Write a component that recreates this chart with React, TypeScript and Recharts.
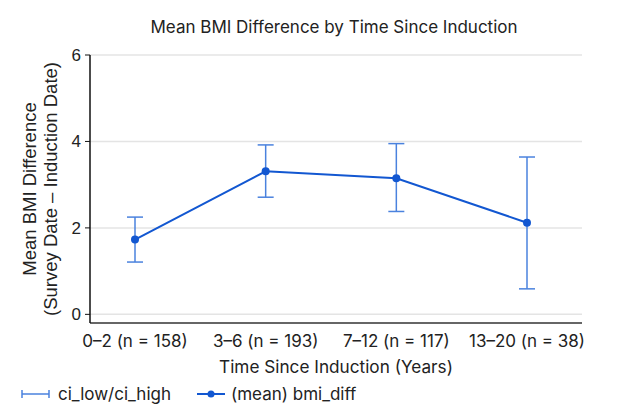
import React from "react";
import { CartesianGrid, ErrorBar, Line, LineChart, XAxis, YAxis } from "recharts";

const CATEGORIES = ["0–2 (n = 158)", "3–6 (n = 193)", "7–12 (n = 117)", "13–20 (n = 38)"];
const MEAN_DIFF = [1.73, 3.31, 3.15, 2.12];
const CI_LOW = [1.21, 2.71, 2.38, 0.59];
const CI_HIGH = [2.25, 3.92, 3.95, 3.64];
const Y_TICKS = [0, 2, 4, 6];

const LINE_COLOR = "#1257d1";
const BAR_COLOR = "#4a82de";

const data = CATEGORIES.map((cat, i) => ({
  cat,
  mean: MEAN_DIFF[i],
  err: [MEAN_DIFF[i] - CI_LOW[i], CI_HIGH[i] - MEAN_DIFF[i]],
}));

function YLabel() {
  return (
    <g transform="translate(40, 189) rotate(-90)">
      <text x={0} y={-4} textAnchor="middle" fontSize={18.5} fill="#222" fontFamily="Liberation Sans, Arial">
        Mean BMI Difference
      </text>
      <text x={0} y={17} textAnchor="middle" fontSize={18.5} fill="#222" fontFamily="Liberation Sans, Arial">
        (Survey Date – Induction Date)
      </text>
    </g>
  );
}

function LegendBox() {
  return (
    <div
      style={{
        position: "absolute",
        left: 0,
        top: 384,
        display: "flex",
        alignItems: "center",
        fontFamily: "Inter",
        fontSize: 17,
        color: "#222",
      }}
    >
      <svg width={30} height={12} style={{ marginLeft: 21, marginRight: 7 }}>
        <line x1={1} y1={6} x2={28} y2={6} stroke={BAR_COLOR} strokeWidth={1.5} />
        <line x1={1} y1={2} x2={1} y2={10} stroke={BAR_COLOR} strokeWidth={1.5} />
        <line x1={28} y1={2} x2={28} y2={10} stroke={BAR_COLOR} strokeWidth={1.5} />
      </svg>
      <span>ci_low/ci_high</span>
      <svg width={28} height={12} style={{ marginLeft: 26, marginRight: 6 }}>
        <line x1={0} y1={6} x2={28} y2={6} stroke={LINE_COLOR} strokeWidth={2} />
        <circle cx={14} cy={6} r={3.5} fill={LINE_COLOR} />
      </svg>
      <span>(mean) bmi_diff</span>
    </div>
  );
}

export default function App() {
  return (
    <div style={{ position: "absolute", left: 0, top: 0, width: 617, height: 405, background: "#fff" }}>
      <div
        style={{
          position: "absolute",
          top: 17,
          left: 100,
          width: 468,
          textAlign: "center",
          fontFamily: "Inter",
          fontSize: 17,
          color: "#222",
        }}
      >
        Mean BMI Difference by Time Since Induction
      </div>
      <LineChart width={617} height={405} data={data} margin={{ top: 55, right: 35, left: 40, bottom: 0 }}>
        <CartesianGrid vertical={false} stroke="#e4e4e4" strokeWidth={1.5} />
        <XAxis
          dataKey="cat"
          padding={{ left: 45, right: 55 }}
          tickLine={false}
          axisLine={{ stroke: "#666", strokeWidth: 2 }}
          tick={{ fontSize: 17, fill: "#222", fontFamily: "Inter" }}
          tickMargin={6}
          height={82}
          interval={0}
          label={{
            value: "Time Since Induction (Years)",
            position: "insideTop",
            offset: 38,
            fontSize: 17.2,
            fill: "#222",
            fontFamily: "Inter",
          }}
        />
        <YAxis
          domain={[-0.2, 6]}
          ticks={Y_TICKS}
          width={50}
          tickSize={5}
          tickMargin={4}
          axisLine={{ stroke: "#111", strokeWidth: 1.5 }}
          tickLine={{ stroke: "#111" }}
          tick={{ fontSize: 17, fill: "#222", fontFamily: "Liberation Sans, Arial" }}
          label={<YLabel />}
        />
        <Line
          dataKey="mean"
          stroke={LINE_COLOR}
          strokeWidth={2}
          dot={{ r: 4, fill: LINE_COLOR, stroke: LINE_COLOR, strokeWidth: 0 }}
          activeDot={false}
          isAnimationActive={false}
        >
          <ErrorBar dataKey="err" width={8} stroke={BAR_COLOR} strokeWidth={1.5} direction="y" />
        </Line>
      </LineChart>
      <LegendBox />
    </div>
  );
}
